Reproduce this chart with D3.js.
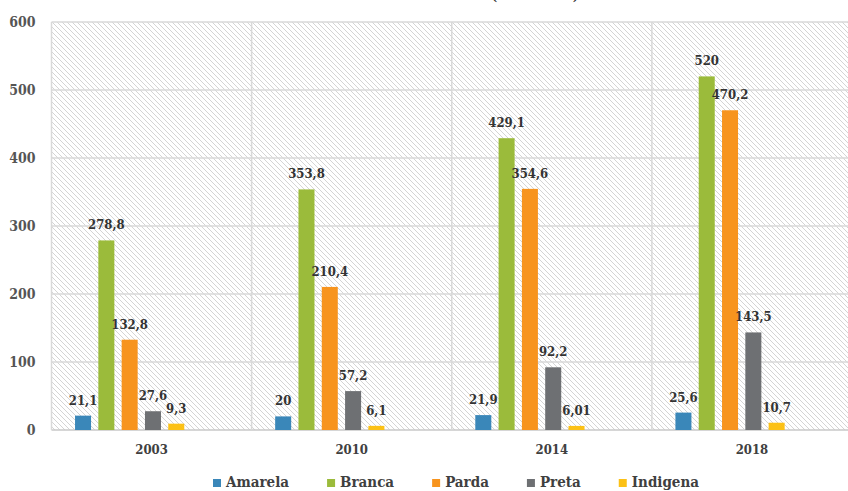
<!DOCTYPE html>
<html><head><meta charset="utf-8">
<script src="https://cdn.jsdelivr.net/npm/d3@7"></script>
<style>
body{margin:0;background:#fff;}
svg{display:block;}
text{font-family:"DejaVu Serif Condensed","DejaVu Serif",serif;font-weight:bold;font-stretch:condensed;}
</style></head>
<body><svg id="c" width="848" height="491"></svg>
<script>
const categories = ["2003","2010","2014","2018"];
const seriesNames = ["Amarela","Branca","Parda","Preta","Indigena"];
const amarela = [21.1, 20, 21.9, 25.6];
const branca = [278.8, 353.8, 429.1, 520];
const parda = [132.8, 210.4, 354.6, 470.2];
const preta = [27.6, 57.2, 92.2, 143.5];
const indigena = [9.3, 6.1, 6.01, 10.7];
const labelsText = {
  Amarela: ["21,1","20","21,9","25,6"],
  Branca: ["278,8","353,8","429,1","520"],
  Parda: ["132,8","210,4","354,6","470,2"],
  Preta: ["27,6","57,2","92,2","143,5"],
  Indigena: ["9,3","6,1","6,01","10,7"]
};
const yTicks = [0,100,200,300,400,500,600];
const colors = ["#3a87b9","#9bbb3b","#f7941e","#6e7073","#fcc116"];

(function(){
const values = {Amarela: amarela, Branca: branca, Parda: parda, Preta: preta, Indigena: indigena};
const svg = d3.select("#c");
const mLeft = 51.5, mRight = 852, mTop = 22, mBottom = 430;

const x = d3.scaleBand().domain(categories).range([mLeft, mRight]).padding(0);
const xi = d3.scaleBand().domain(seriesNames).range([0, x.bandwidth()])
  .paddingInner(0.313).paddingOuter(1.95).align(0.259);
const y = d3.scaleLinear().domain([0, 600]).range([mBottom, mTop]);
const color = d3.scaleOrdinal().domain(seriesNames).range(colors);

const defs = svg.append("defs");
const pat = defs.append("pattern").attr("id","hatch").attr("patternUnits","userSpaceOnUse")
  .attr("width",5).attr("height",5);
pat.append("rect").attr("width",5).attr("height",5).attr("fill","#fff");
pat.append("path").attr("d","M0,0L5,5M-1,4L1,6M4,-1L6,1").attr("stroke","#cfcfcf").attr("stroke-width",0.9);

svg.append("rect").attr("x",mLeft).attr("y",mTop).attr("width",mRight-mLeft).attr("height",mBottom-mTop)
  .attr("fill","url(#hatch)");

svg.append("g").selectAll("line").data(yTicks).join("line")
  .attr("x1",mLeft).attr("x2",mRight).attr("y1",d=>y(d)).attr("y2",d=>y(d))
  .attr("stroke",d=>d===0?"#c8c8c8":"#d9d9d9").attr("stroke-width",1.5);
svg.append("g").selectAll("line").data(categories).join("line")
  .attr("x1",d=>x(d)).attr("x2",d=>x(d)).attr("y1",mTop).attr("y2",mBottom)
  .attr("stroke","#d9d9d9").attr("stroke-width",1.5);

const yAxis = d3.axisLeft(y).tickValues(yTicks).tickSize(0).tickPadding(0);
const ya = svg.append("g").attr("transform",`translate(${mLeft-16},0)`).call(yAxis);
ya.select(".domain").remove();
ya.selectAll("text").attr("font-size",14).attr("fill","#555").attr("font-family",null).attr("dy","0.35em");

const xAxis = d3.axisBottom(x).tickSize(0).tickPadding(0);
const xa = svg.append("g").attr("transform",`translate(0,${mBottom+15})`).call(xAxis);
xa.select(".domain").remove();
xa.selectAll("text").attr("font-size",13).attr("fill","#404040").attr("font-family",null).attr("dy","0.71em");

const data = [];
categories.forEach((c,ci)=>seriesNames.forEach(s=>data.push({c, s, v: values[s][ci], t: labelsText[s][ci]})));
svg.append("g").selectAll("rect").data(data).join("rect")
  .attr("x",d=>x(d.c)+xi(d.s)).attr("width",xi.bandwidth())
  .attr("y",d=>y(d.v)).attr("height",d=>y(0)-y(d.v))
  .attr("fill",d=>color(d.s));
svg.append("g").selectAll("text").data(data).join("text")
  .attr("x",d=>x(d.c)+xi(d.s)+xi.bandwidth()/2).attr("y",d=>y(d.v)-11)
  .attr("text-anchor","middle").attr("font-size",13).attr("fill","#333")
  .text(d=>d.t);

svg.append("text").attr("x",535).attr("y",0).attr("text-anchor","middle")
  .attr("font-size",14).attr("font-weight","normal").attr("fill","#333").text("(2003-2018)");

const lg = svg.append("g").attr("transform","translate(213,0)");
let cx = 0;
seriesNames.forEach(s=>{
  const g = lg.append("g").attr("transform",`translate(${cx},0)`);
  g.append("rect").attr("x",0).attr("y",479).attr("width",8).attr("height",8).attr("fill",color(s));
  const t = g.append("text").attr("x",13).attr("y",487).attr("font-size",15).attr("fill","#404040").text(s);
  cx += 13 + t.node().getComputedTextLength() + 38;
});
})();
</script></body></html>
